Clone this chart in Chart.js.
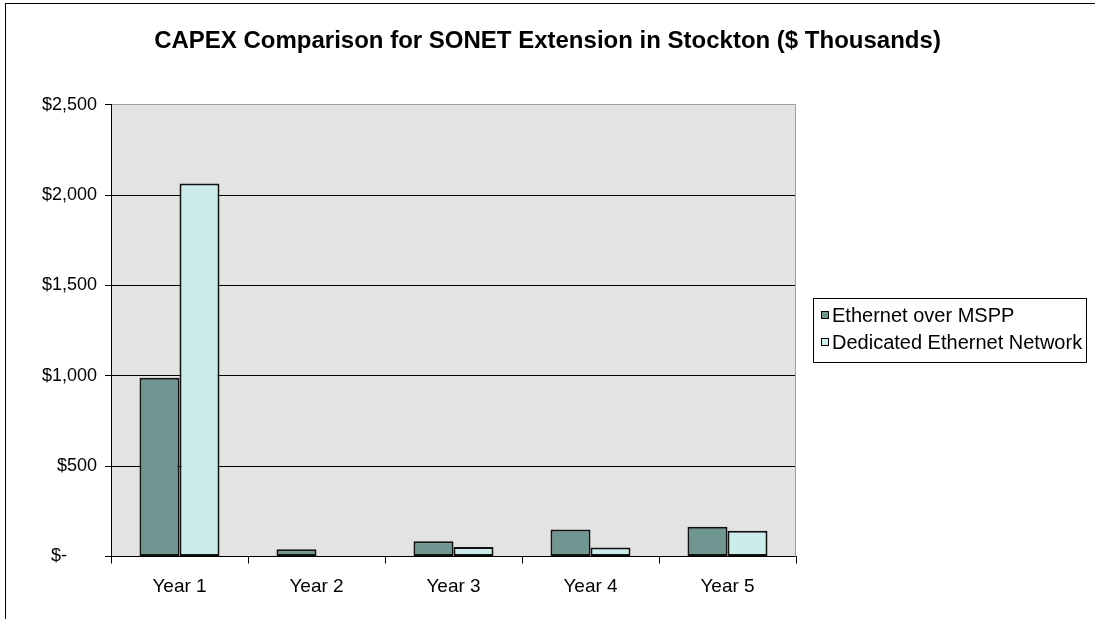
<!DOCTYPE html>
<html>
<head>
<meta charset="utf-8">
<title>CAPEX Comparison</title>
<script src="https://cdn.jsdelivr.net/npm/chart.js@4/dist/chart.umd.min.js"></script>
<style>
  html, body { margin: 0; padding: 0; background: #fff; }
  #wrap { width: 1095px; height: 619px; position: relative; }
</style>
</head>
<body>
<div id="wrap"><canvas id="capexChart" width="1095" height="619"></canvas></div>
<script>
// chart data
const categories = ["Year 1", "Year 2", "Year 3", "Year 4", "Year 5"];
const msppValues = [990, 40, 85, 150, 165];
const dedicatedValues = [2065, 0, 52, 50, 143];
const yTickValues = [0, 500, 1000, 1500, 2000, 2500];
const yTickLabels = ["$-      ", "$500", "$1,000", "$1,500", "$2,000", "$2,500"];

const FONT = "Arial, 'Liberation Sans', sans-serif";

// plot background, borders and the boxed legend
const excelLook = {
  id: "excelLook",
  beforeDraw(chart) {
    const { ctx, chartArea: a } = chart;
    ctx.save();
    ctx.fillStyle = "#e3e3e3";
    ctx.fillRect(a.left, a.top, a.right - a.left, a.bottom - a.top);
    ctx.restore();
  },
  afterDraw(chart) {
    const { ctx, chartArea: a } = chart;
    ctx.save();
    // outer chart border
    ctx.strokeStyle = "#000";
    ctx.lineWidth = 1;
    ctx.strokeRect(5.5, 3.5, 1100, 630);

    // plot area right edge
    ctx.strokeStyle = "#a0a0a0";
    ctx.beginPath();
    ctx.moveTo(Math.round(a.right) - 0.5, a.top);
    ctx.lineTo(Math.round(a.right) - 0.5, a.bottom);
    ctx.stroke();

    // legend
    const lx = 813, ly = 298, lw = 273, lh = 64;
    ctx.fillStyle = "#fff";
    ctx.fillRect(lx, ly, lw, lh);
    ctx.strokeStyle = "#000";
    ctx.strokeRect(lx + 0.5, ly + 0.5, lw, lh);
    ctx.font = "20px " + FONT;
    ctx.textBaseline = "middle";
    chart.data.datasets.forEach((ds, i) => {
      const cy = ly + 17 + i * 27;
      ctx.fillStyle = ds.backgroundColor;
      ctx.fillRect(lx + 8, cy - 4, 8, 8);
      ctx.strokeStyle = "#000";
      ctx.strokeRect(lx + 8.5, cy - 3.5, 7, 7);
      ctx.fillStyle = "#000";
      ctx.fillText(ds.label, lx + 19, cy + 1);
    });
    ctx.restore();
  }
};

document.addEventListener("DOMContentLoaded", () => {
  const ctx = document.getElementById("capexChart").getContext("2d");
  new Chart(ctx, {
    type: "bar",
    data: {
      labels: categories,
      datasets: [
        {
          label: "Ethernet over MSPP",
          data: msppValues,
          backgroundColor: "#709692",
          borderColor: "#111",
          borderWidth: 2,
          borderSkipped: false,
          categoryPercentage: 0.584,
          barPercentage: 1.0
        },
        {
          label: "Dedicated Ethernet Network",
          data: dedicatedValues,
          backgroundColor: "#cbecea",
          borderColor: "#111",
          borderWidth: 2,
          borderSkipped: false,
          categoryPercentage: 0.584,
          barPercentage: 1.0
        }
      ]
    },
    options: {
      responsive: false,
      animation: false,
      layout: { padding: 0 },
      plugins: {
        legend: { display: false },
        tooltip: { enabled: false },
        title: {
          display: true,
          text: "CAPEX Comparison for SONET Extension in Stockton ($ Thousands)",
          color: "#000",
          font: { family: FONT, size: 24, weight: "bold" },
          padding: { top: 27, bottom: 49 },
          fullSize: true
        }
      },
      scales: {
        x: {
          offset: true,
          grid: {
            offset: true,
            drawOnChartArea: false,
            color: "#000",
            tickLength: 7
          },
          border: { color: "#000", width: 1 },
          ticks: {
            color: "#000",
            font: { family: FONT, size: 19 },
            padding: 12
          },
          afterFit(scale) { scale.height = 62.5; }
        },
        y: {
          min: 0,
          max: 2500,
          afterBuildTicks(scale) {
            scale.ticks = yTickValues.map(v => ({ value: v }));
          },
          grid: {
            color: ctx => (ctx.tick && ctx.tick.value === 2500 ? "#a0a0a0" : "#000"),
            tickColor: "#000",
            tickLength: 6
          },
          border: { color: "#000", width: 1 },
          ticks: {
            color: "#000",
            font: { family: FONT, size: 18 },
            padding: 8,
            callback: (v, i) => yTickLabels[i]
          },
          afterFit(scale) { scale.width = 111; }
        },
        // empty right-hand axis that reserves room for the legend
        legendRoom: {
          type: "linear",
          position: "right",
          display: true,
          grid: { display: false, drawTicks: false },
          border: { display: false },
          ticks: { display: false },
          afterFit(scale) { scale.width = 299; }
        }
      }
    },
    plugins: [excelLook]
  });
});
</script>
</body>
</html>
